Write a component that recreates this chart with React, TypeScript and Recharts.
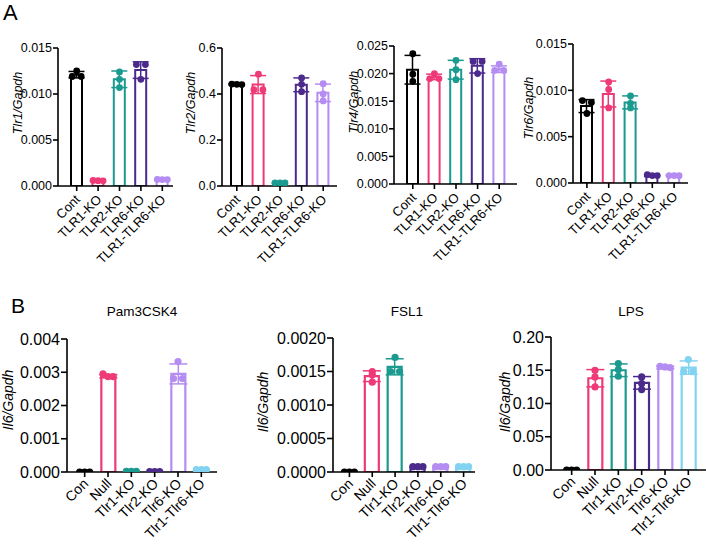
import React from 'react';
import { ComposedChart, Bar, ErrorBar, Scatter, XAxis, YAxis } from 'recharts';

const FONT = '"Liberation Sans", Arial, Helvetica, sans-serif';

const C_BLACK = '#000000';
const C_PINK = '#ee3a78';
const C_TEAL = '#1b9a8f';
const C_DPURPLE = '#4b2a8c';
const C_LPURPLE = '#b48cf2';
const C_LBLUE = '#82d3f2';

// ---- Panel A categories / colours
const categoriesA = ['Cont', 'TLR1-KO', 'TLR2-KO', 'TLR6-KO', 'TLR1-TLR6-KO'];
const colorsA = [C_BLACK, C_PINK, C_TEAL, C_DPURPLE, C_LPURPLE];

// Tlr1/Gapdh
const tlr1Mean = [0.0121, 0.0006, 0.0116, 0.0126, 0.0007];
const tlr1Sd = [0.00035, 0.00003, 0.0009, 0.0009, 0.00003];
const tlr1Rep1 = [0.0125, 0.00058, 0.0124, 0.0132, 0.0007];
const tlr1Rep2 = [0.0119, 0.0006, 0.0116, 0.0132, 0.00072];
const tlr1Rep3 = [0.0119, 0.00056, 0.0107, 0.0116, 0.0007];

// Tlr2/Gapdh
const tlr2Mean = [0.442, 0.441, 0.0135, 0.44, 0.405];
const tlr2Sd = [0.003, 0.039, 0.001, 0.03, 0.038];
const tlr2Rep1 = [0.442, 0.486, 0.013, 0.47, 0.445];
const tlr2Rep2 = [0.443, 0.419, 0.014, 0.442, 0.4];
const tlr2Rep3 = [0.441, 0.419, 0.013, 0.41, 0.37];

// Tlr4/Gapdh
const tlr4Mean = [0.0207, 0.0194, 0.0207, 0.0214, 0.0208];
const tlr4Sd = [0.0026, 0.0005, 0.0017, 0.0013, 0.0006];
const tlr4Rep1 = [0.0236, 0.02, 0.0224, 0.0222, 0.0217];
const tlr4Rep2 = [0.0199, 0.0191, 0.0207, 0.0222, 0.0206];
const tlr4Rep3 = [0.0186, 0.0191, 0.0189, 0.02, 0.0206];

// Tlr6/Gapdh
const tlr6Mean = [0.0083, 0.0096, 0.0087, 0.0008, 0.0008];
const tlr6Sd = [0.0007, 0.0014, 0.0007, 0.0001, 0.00003];
const tlr6Rep1 = [0.0089, 0.0109, 0.0094, 0.0009, 0.0008];
const tlr6Rep2 = [0.0087, 0.0101, 0.0086, 0.0008, 0.00078];
const tlr6Rep3 = [0.0075, 0.0081, 0.0081, 0.0008, 0.0008];

// ---- Panel B categories / colours
const categoriesB = ['Con', 'Null', 'Tlr1-KO', 'Tlr2-KO', 'Tlr6-KO', 'Tlr1-Tlr6-KO'];
const colorsB = [C_BLACK, C_PINK, C_TEAL, C_DPURPLE, C_LPURPLE, C_LBLUE];

// Pam3CSK4
const pamMean = [0, 0.00288, 0.00002, 0.00001, 0.00295, 0.00007];
const pamSd = [0, 0.00005, 0, 0, 0.0003, 0];
const pamRep1 = [0, 0.00295, 0.00002, 0.00001, 0.00332, 0.00007];
const pamRep2 = [0, 0.00287, 0.00002, 0.00001, 0.00281, 0.00007];
const pamRep3 = [0, 0.00287, 0.00002, 0.00001, 0.00281, 0.00007];

// FSL1
const fslMean = [0, 0.00143, 0.00157, 0.00008, 0.00008, 0.00008];
const fslSd = [0, 0.00008, 0.00012, 0, 0, 0];
const fslRep1 = [0, 0.0015, 0.00171, 0.00008, 0.00008, 0.00008];
const fslRep2 = [0, 0.00145, 0.0015, 0.00008, 0.00008, 0.00008];
const fslRep3 = [0, 0.00134, 0.0015, 0.00008, 0.00008, 0.00008];

// LPS
const lpsMean = [0, 0.138, 0.15, 0.131, 0.154, 0.154];
const lpsSd = [0, 0.013, 0.0095, 0.0095, 0.002, 0.01];
const lpsRep1 = [0, 0.15, 0.16, 0.14, 0.156, 0.166];
const lpsRep2 = [0, 0.14, 0.151, 0.13, 0.155, 0.148];
const lpsRep3 = [0, 0.125, 0.141, 0.121, 0.154, 0.148];

const ticksA1 = [0, 0.005, 0.01, 0.015];
const ticksA2 = [0, 0.2, 0.4, 0.6];
const ticksA3 = [0, 0.005, 0.01, 0.015, 0.02, 0.025];
const ticksA4 = [0, 0.005, 0.01, 0.015];
const ticksB1 = [0, 0.001, 0.002, 0.003, 0.004];
const ticksB2 = [0, 0.0005, 0.001, 0.0015, 0.002];
const ticksB3 = [0, 0.05, 0.1, 0.15, 0.2];

const styleA = { yw: 60, xh: 80, tickFont: 12.5, xFont: 13, xdy: 4, labelFont: 12.5, barSize: 11, barStroke: 2, tickSize: 5, dotR: 3.4, capW: 8 };
const styleB = { yw: 80, xh: 72, tickFont: 16, xFont: 14, xdy: 2, labelFont: 14, barSize: 14, barStroke: 2.2, tickSize: 6, dotR: 3.6, capW: 9 };

function jitter(vals: number[], pxPerUnit: number): number[] {
  const idx = [0, 1, 2].sort((a, b) => vals[b] - vals[a]);
  const groups: number[][] = [];
  for (const k of idx) {
    const g = groups[groups.length - 1];
    if (g && Math.abs(vals[g[0]] - vals[k]) * pxPerUnit < 3) g.push(k);
    else groups.push([k]);
  }
  const dx = [0, 0, 0];
  groups.forEach((g) => {
    if (g.length === 2) { dx[g[0]] = -4.5; dx[g[1]] = 4.5; }
    if (g.length === 3) { dx[g[0]] = -5; dx[g[1]] = 0; dx[g[2]] = 5; }
  });
  return dx;
}

function buildRows(spec: any, pxPerUnit: number) {
  return spec.categories.map((name: string, i: number) => {
    const vals = spec.reps.map((r: number[]) => r[i]);
    const row: any = { name, color: spec.colors[i], dx: jitter(vals, pxPerUnit) };
    row['b' + i] = spec.means[i];
    row['e' + i] = spec.sds[i];
    vals.forEach((v: number, k: number) => { row['r' + k] = v; });
    return row;
  });
}

const XTick = (props: any) => {
  const { x, y, payload, fs, ddy } = props;
  return (
    <g transform={`translate(${x + 1},${y + ddy})`}>
      <text x={0} y={0} dy="0.35em" textAnchor="end" transform="rotate(-45)" fontSize={fs} fontFamily={FONT} fill="#000">
        {payload.value}
      </text>
    </g>
  );
};

function Panel({ spec, st }: any) {
  const mt = 8;
  const mr = spec.mr ?? 2;
  const plotH = spec.plotBottom - spec.plotTop;
  const left = spec.axisX - st.yw;
  const width = st.yw + (spec.plotRight - spec.axisX) + mr;
  const height = mt + plotH + st.xh;
  const rows = buildRows(spec, plotH / spec.yMax);
  const axisStyle = { stroke: '#000', strokeWidth: 1.6 };
  return (
    <>
      <div style={{ position: 'absolute', left, top: spec.plotTop - mt, width, height }}>
        <ComposedChart width={width} height={height} data={rows} margin={{ top: mt, right: mr, bottom: 0, left: 0 }}>
          <XAxis
            dataKey="name"
            interval={0}
            padding={{ left: spec.padL, right: spec.padR }}
            tick={<XTick fs={st.xFont} ddy={st.xdy} />}
            tickSize={5}
            axisLine={axisStyle}
            tickLine={axisStyle}
            height={st.xh}
          />
          <YAxis
            type="number"
            domain={[0, spec.yMax]}
            ticks={spec.yTicks}
            allowDataOverflow
            interval={0}
            width={st.yw}
            tickFormatter={(v: number) => v.toFixed(spec.decimals)}
            tick={{ fontSize: st.tickFont, fill: '#000', fontFamily: FONT }}
            tickSize={st.tickSize}
            tickMargin={1}
            axisLine={axisStyle}
            tickLine={axisStyle}
          />
          {spec.categories.map((c: string, i: number) => (
            <Bar
              key={c}
              dataKey={'b' + i}
              stackId="s"
              fill="#fff"
              stroke={spec.colors[i]}
              strokeWidth={st.barStroke}
              barSize={st.barSize}
              isAnimationActive={false}
            >
              <ErrorBar dataKey={'e' + i} width={st.capW} stroke={spec.colors[i]} strokeWidth={1.5} direction="y" />
            </Bar>
          ))}
          {[0, 1, 2].map((k) => (
            <Scatter
              key={'s' + k}
              dataKey={'r' + k}
              isAnimationActive={false}
              shape={(p: any) => (
                <circle cx={p.cx + (p.payload?.dx?.[k] ?? 0)} cy={p.cy} r={st.dotR} fill={p.payload?.color ?? '#000'} />
              )}
            />
          ))}
        </ComposedChart>
      </div>
      <div
        style={{
          position: 'absolute', left: spec.labelX, top: spec.labelY,
          transform: 'translate(-50%,-50%) rotate(-90deg)', fontStyle: 'italic',
          fontSize: st.labelFont, fontFamily: FONT, whiteSpace: 'nowrap', lineHeight: 1, color: '#000',
        }}
      >
        {spec.yLabel}
      </div>
      {spec.title ? (
        <div
          style={{
            position: 'absolute', left: spec.titleX, top: spec.titleY,
            transform: 'translate(-50%,-50%)', fontSize: 13.5, fontFamily: FONT,
            whiteSpace: 'nowrap', lineHeight: 1, color: '#000',
          }}
        >
          {spec.title}
        </div>
      ) : null}
    </>
  );
}

const panelsA = [
  { categories: categoriesA, colors: colorsA, means: tlr1Mean, sds: tlr1Sd, reps: [tlr1Rep1, tlr1Rep2, tlr1Rep3], yMax: 0.015, yTicks: ticksA1, decimals: 3, yLabel: 'Tlr1/Gapdh', axisX: 58, plotTop: 48, plotBottom: 186, plotRight: 173, padL: 8, padR: 0, labelX: 18, labelY: 103 },
  { categories: categoriesA, colors: colorsA, means: tlr2Mean, sds: tlr2Sd, reps: [tlr2Rep1, tlr2Rep2, tlr2Rep3], yMax: 0.6, yTicks: ticksA2, decimals: 1, yLabel: 'Tlr2/Gapdh', axisX: 222, plotTop: 48, plotBottom: 186, plotRight: 337, padL: 4, padR: 3, labelX: 191, labelY: 103 },
  { categories: categoriesA, colors: colorsA, means: tlr4Mean, sds: tlr4Sd, reps: [tlr4Rep1, tlr4Rep2, tlr4Rep3], yMax: 0.025, yTicks: ticksA3, decimals: 3, yLabel: 'Tlr4/Gapdh', axisX: 394, plotTop: 46, plotBottom: 184, plotRight: 517, padL: 8, padR: 7, labelX: 354, labelY: 102 },
  { categories: categoriesA, colors: colorsA, means: tlr6Mean, sds: tlr6Sd, reps: [tlr6Rep1, tlr6Rep2, tlr6Rep3], yMax: 0.015, yTicks: ticksA4, decimals: 3, yLabel: 'Tlr6/Gapdh', axisX: 573, plotTop: 44, plotBottom: 183, plotRight: 688, padL: 3, padR: 3, labelX: 529, labelY: 108 },
];

const panelsB = [
  { categories: categoriesB, colors: colorsB, means: pamMean, sds: pamSd, reps: [pamRep1, pamRep2, pamRep3], yMax: 0.004, yTicks: ticksB1, decimals: 3, yLabel: 'Il6/Gapdh', axisX: 67, plotTop: 339, plotBottom: 472, plotRight: 217, padL: 6, padR: 4, labelX: 8, labelY: 400, title: 'Pam3CSK4', titleX: 142, titleY: 312 },
  { categories: categoriesB, colors: colorsB, means: fslMean, sds: fslSd, reps: [fslRep1, fslRep2, fslRep3], yMax: 0.002, yTicks: ticksB2, decimals: 4, yLabel: 'Il6/Gapdh', axisX: 333, plotTop: 338, plotBottom: 472, plotRight: 475, padL: 5, padR: 0, labelX: 263, labelY: 402, title: 'FSL1', titleX: 407, titleY: 312 },
  { categories: categoriesB, colors: colorsB, means: lpsMean, sds: lpsSd, reps: [lpsRep1, lpsRep2, lpsRep3], yMax: 0.2, yTicks: ticksB3, decimals: 2, yLabel: 'Il6/Gapdh', axisX: 551, plotTop: 337, plotBottom: 470, plotRight: 706, padL: 9, padR: 6, mr: 0, labelX: 505, labelY: 402, title: 'LPS', titleX: 631, titleY: 312 },
];

export default function App() {
  return (
    <div style={{ position: 'absolute', left: 0, top: 0, width: 706, height: 545, background: '#fff', overflow: 'hidden', fontFamily: FONT }}>
      <div style={{ position: 'absolute', left: 3, top: 0, fontSize: 22, lineHeight: '26px', fontFamily: FONT }}>A</div>
      <div style={{ position: 'absolute', left: 11, top: 293, fontSize: 21, lineHeight: '26px', fontFamily: FONT }}>B</div>
      {panelsA.map((p, i) => <Panel key={'a' + i} spec={p} st={styleA} />)}
      {panelsB.map((p, i) => <Panel key={'b' + i} spec={p} st={styleB} />)}
    </div>
  );
}
